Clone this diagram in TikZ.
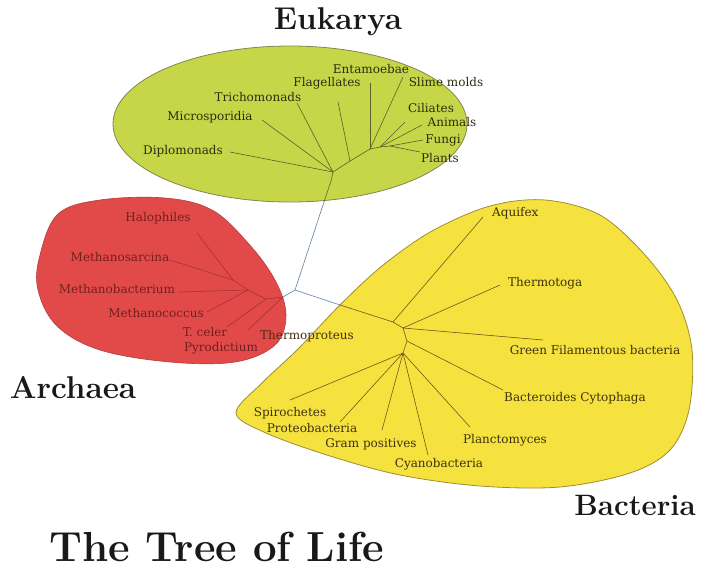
\documentclass[tikz,border=0pt]{standalone}
\usepackage{fontspec}
\newfontfamily\labfont{DejaVu Serif}
\definecolor{eukfill}{RGB}{198,214,72}
\definecolor{eukedge}{RGB}{130,135,80}
\definecolor{bacfill}{RGB}{246,226,62}
\definecolor{bacedge}{RGB}{160,140,50}
\definecolor{arcfill}{RGB}{226,74,74}
\definecolor{arcedge}{RGB}{180,60,60}
\definecolor{euktext}{RGB}{45,45,15}
\definecolor{bactext}{RGB}{60,50,15}
\definecolor{arctext}{RGB}{115,30,30}
\definecolor{linkblue}{RGB}{95,125,165}
\definecolor{eukline}{RGB}{95,95,40}
\definecolor{bacline}{RGB}{110,85,30}
\definecolor{arcline}{RGB}{160,45,45}
\definecolor{titlecol}{RGB}{25,25,25}
\begin{document}
\begin{tikzpicture}[x=1pt,y=-1pt,
  lab/.style={font=\labfont\fontsize{12}{12}\selectfont, inner sep=0pt},
  elab/.style={lab, text=euktext},
  blab/.style={lab, text=bactext},
  alab/.style={lab, text=arctext},
  eline/.style={draw=eukline, line width=0.6pt},
  bline/.style={draw=bacline, line width=0.6pt},
  aline/.style={draw=arcline, line width=0.5pt},
  link/.style={draw=linkblue, line width=0.6pt},
  domtitle/.style={font=\fontsize{31.5}{32}\selectfont\bfseries, text=titlecol, inner sep=0pt},
  bigtitle/.style={font=\fontsize{42}{44}\selectfont\bfseries, text=titlecol, inner sep=0pt}]
\useasboundingbox (0,0) rectangle (707,571);

% domain shapes
\path[fill=eukfill, draw=eukedge, line width=0.8pt] (290,124) ellipse [x radius=177, y radius=78];
\path[fill=arcfill, draw=arcedge, line width=0.6pt] plot[smooth cycle, tension=0.6] coordinates {
 (40,255) (58,214) (100,200) (165,198) (212,210) (248,243) (275,280) (286,315)
 (275,345) (235,362) (170,362) (100,350) (57,326) (38,290)};
\path[fill=bacfill, draw=bacedge, line width=0.8pt] plot[smooth cycle, tension=0.55] coordinates {
 (236,413) (262,383) (298,349) (340,305) (382,266) (432,231) (490,206) (545,200)
 (600,215) (645,255) (677,300) (692,350) (689,410) (670,450) (630,473) (560,487)
 (480,486) (400,475) (330,456) (266,433)};

% hub coordinates
\coordinate (E0) at (333,172);
\coordinate (E1) at (350,161);
\coordinate (E2) at (370,149);
\coordinate (E3) at (380,147);
\coordinate (E4) at (390,146);
\coordinate (Es) at (331,181);
\coordinate (Eb) at (324,202);
\coordinate (R) at (295,290);
\coordinate (Bj) at (340,305);
\coordinate (B0) at (393,322);
\coordinate (B1) at (403,328);
\coordinate (B2) at (407,341);
\coordinate (B3) at (403,353);
\coordinate (A0) at (283,297);
\coordinate (A1) at (266,299);
\coordinate (A2) at (248,290);
\coordinate (A3) at (233,280);

% branch ends
\coordinate (eDip) at (230,152);
\coordinate (eMic) at (262,120);
\coordinate (eTri) at (297,103);
\coordinate (eFla) at (338,102);
\coordinate (eEnt) at (370,83);
\coordinate (eSli) at (403,77);
\coordinate (eCil) at (405,122);
\coordinate (eAni) at (422,125);
\coordinate (eFun) at (423,140);
\coordinate (ePla) at (420,152);

\coordinate (bAqu) at (483,217);
\coordinate (bThe) at (500,285);
\coordinate (bGre) at (543,340);
\coordinate (bBac) at (503,390);
\coordinate (bSpi) at (290,400);
\coordinate (bPro) at (340,422);
\coordinate (bGra) at (382,430);
\coordinate (bCya) at (428,455);
\coordinate (bPln) at (470,427);

\coordinate (aHal) at (197,233);
\coordinate (aMsa) at (170,260);
\coordinate (aMba) at (178,292);
\coordinate (aMco) at (207,312);
\coordinate (aTce) at (227,327);
\coordinate (aThp) at (248,330);

% links between domains
\draw[link] (Eb) -- (R) -- (Bj);
\draw[link] (R) -- (A0);

% Eukarya tree
\draw[eline] (E0) -- (Es) -- (Eb);
\draw[eline] (E0) -- (E1) -- (E2) -- (E3) -- (E4);
\draw[eline] (E0) -- (eDip);
\draw[eline] (E0) -- (eMic);
\draw[eline] (E0) -- (eTri);
\draw[eline] (E1) -- (eFla);
\draw[eline] (E2) -- (eEnt);
\draw[eline] (E2) -- (eSli);
\draw[eline] (E3) -- (eCil);
\draw[eline] (E3) -- (eAni);
\draw[eline] (E4) -- (eFun);
\draw[eline] (E4) -- (ePla);

% Bacteria tree
\draw[bline] (Bj) -- (B0) -- (B1) -- (B2) -- (B3);
\draw[bline] (B0) -- (bAqu);
\draw[bline] (B1) -- (bThe);
\draw[bline] (B1) -- (bGre);
\draw[bline] (B2) -- (bBac);
\draw[bline] (B3) -- (bSpi);
\draw[bline] (B3) -- (bPro);
\draw[bline] (B3) -- (bGra);
\draw[bline] (B3) -- (bCya);
\draw[bline] (B3) -- (bPln);

% Archaea tree
\draw[aline] (A0) -- (A1) -- (A2) -- (A3);
\draw[aline] (A3) -- (aHal);
\draw[aline] (A3) -- (aMsa);
\draw[aline] (A2) -- (aMba);
\draw[aline] (A2) -- (aMco);
\draw[aline] (A1) -- (aTce);
\draw[aline] (A0) -- (aThp);

% Eukarya labels
\node[elab] (lDip) at (183,151) {Diplomonads};
\node[elab] (lMic) at (210,117) {Microsporidia};
\node[elab] (lTri) at (258,97) {Trichomonads};
\node[elab] (lFla) at (327,83) {Flagellates};
\node[elab] (lEnt) at (371,69) {Entamoebae};
\node[elab] (lSli) at (446,82) {Slime molds};
\node[elab] (lCil) at (431,108) {Ciliates};
\node[elab] (lAni) at (452,122) {Animals};
\node[elab] (lFun) at (443,140) {Fungi};
\node[elab] (lPla) at (440,158) {Plants};

% Bacteria labels
\node[blab, anchor=west] (lAqu) at (492,213) {Aquifex};
\node[blab, anchor=west] (lThe) at (508,283) {Thermotoga};
\node[blab] (lGre) at (595,350) {Green Filamentous bacteria};
\node[blab] (lBac) at (575,398) {Bacteroides Cytophaga};
\node[blab] (lSpi) at (290,413) {Spirochetes};
\node[blab] (lPro) at (312,428) {Proteobacteria};
\node[blab] (lGra) at (371,444) {Gram positives};
\node[blab] (lCya) at (439,464) {Cyanobacteria};
\node[blab] (lPln) at (505,440) {Planctomyces};

% Archaea labels
\node[alab] (lHal) at (158,218) {Halophiles};
\node[alab] (lMsa) at (120,257) {Methanosarcina};
\node[alab] (lMba) at (117,289) {Methanobacterium};
\node[alab] (lMco) at (156,313) {Methanococcus};
\node[alab] (lTce) at (205,332) {T. celer};
\node[alab] (lPyr) at (221,348) {Pyrodictium};
\node[lab, text=bactext!80!arctext] (lThp) at (307,336) {Thermoproteus};

% domain titles
\node[domtitle] (tEuk) at (338,22) {Eukarya};
\node[domtitle] (tArc) at (73,388) {Archaea};
\node[domtitle, font=\fontsize{29.5}{30}\selectfont\bfseries] (tBac) at (635,505) {Bacteria};
\node[bigtitle] (tLife) at (217,547) {The Tree of Life};
\end{tikzpicture}
\end{document}
